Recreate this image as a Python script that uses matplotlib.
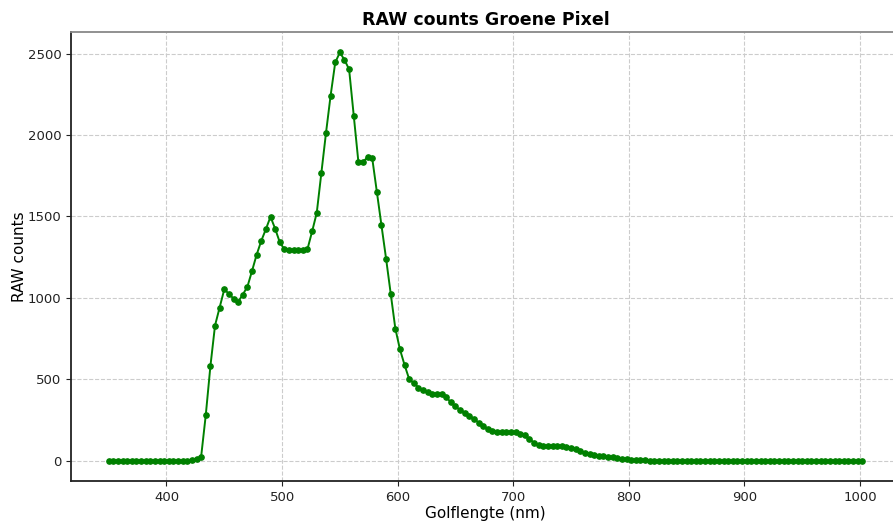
import numpy as np
import matplotlib
matplotlib.use("Agg")
import matplotlib.pyplot as plt

# Wavelength grid of the spectrometer (nm), 4 nm steps
golflengte = list(range(350, 1003, 4))

# RAW counts for the green pixel
raw_counts = [
    # 350 - 422
    0, 0, 0, 0, 0, 0, 0, 0, 0, 0, 0, 0, 0, 0, 0, 0, 0, 0, 2,
    # 426 - 498
    10, 25, 280, 580, 830, 940, 1052, 1025, 995, 975, 1020, 1068, 1165, 1265,
    1350, 1422, 1498, 1425, 1342,
    # 502 - 598
    1298, 1296, 1295, 1294, 1293, 1300, 1408, 1522, 1768, 2013, 2243, 2446,
    2508, 2462, 2404, 2120, 1837, 1837, 1863, 1858, 1650, 1445, 1240, 1026, 811,
    # 602 - 698
    683, 587, 500, 476, 449, 431, 420, 411, 410, 411, 389, 359, 333, 311, 294,
    275, 256, 234, 211, 193, 181, 178, 175, 173, 174,
    # 702 - 798
    173, 164, 155, 131, 111, 97, 91, 88, 88, 88, 88, 86, 80, 72, 60, 48, 38,
    32, 28, 26, 24, 21, 17, 12, 8,
    # 802 - 814
    5, 3, 2, 1,
    # 818 - 1002
    0, 0, 0, 0, 0, 0, 0, 0, 0, 0, 0, 0, 0, 0, 0, 0, 0, 0, 0, 0, 0, 0, 0, 0,
    0, 0, 0, 0, 0, 0, 0, 0, 0, 0, 0, 0, 0, 0, 0, 0, 0, 0, 0, 0, 0, 0, 0,
]

x_ticks = [400, 500, 600, 700, 800, 900, 1000]
y_ticks = [0, 500, 1000, 1500, 2000, 2500]

fig = plt.figure(figsize=(8.93, 5.23), dpi=100)
ax = fig.add_axes([71 / 893, 1 - 481 / 523, 829 / 893, 449 / 523])

ax.plot(golflengte, raw_counts, color="green", linewidth=1.4,
        marker="o", markersize=3.8)

ax.set_xticks(x_ticks)
ax.set_yticks(y_ticks)
ax.margins(x=0.05, y=0.05)

ax.grid(True, linestyle="--", color="#cccccc", linewidth=0.8)
ax.set_axisbelow(True)

for side in ("left", "bottom"):
    ax.spines[side].set_color("#222222")
    ax.spines[side].set_linewidth(1.3)
ax.spines["top"].set_color("#888888")
ax.spines["top"].set_linewidth(1.3)
ax.spines["right"].set_color("#888888")

ax.tick_params(labelsize=9.5, colors="#222222")

ax.set_title("RAW counts Groene Pixel", fontsize=12.5, fontweight="bold", pad=5)
ax.set_xlabel("Golflengte (nm)", fontsize=11, labelpad=1.5)
ax.set_ylabel("RAW counts", fontsize=11, labelpad=0.5)

fig.savefig("out.png", dpi=100)
